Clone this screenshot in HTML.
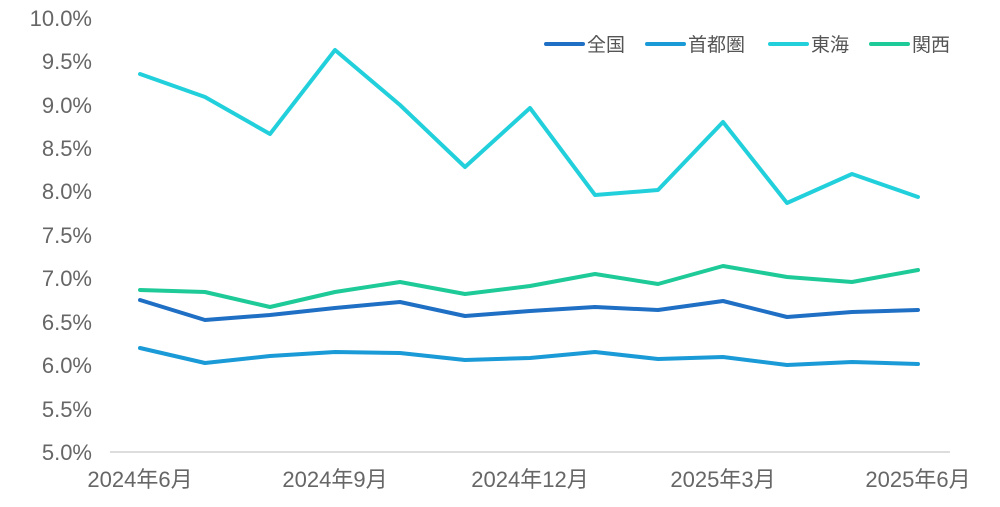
<!DOCTYPE html>
<html><head><meta charset="utf-8"><style>body{margin:0;background:#fff}svg{display:block}</style></head><body>
<svg width="1000" height="507" viewBox="0 0 1000 507" xmlns="http://www.w3.org/2000/svg" font-family="'Liberation Sans','Noto Sans CJK JP',sans-serif">
<line x1="110" y1="452" x2="950" y2="452" stroke="#ddd" stroke-width="2"/>
<g fill="#666" font-size="22" text-anchor="end">
<text x="92" y="460">5.0%</text><text x="92" y="417">5.5%</text><text x="92" y="373">6.0%</text><text x="92" y="330">6.5%</text><text x="92" y="286">7.0%</text><text x="92" y="243">7.5%</text><text x="92" y="199">8.0%</text><text x="92" y="156">8.5%</text><text x="92" y="113">9.0%</text><text x="92" y="69">9.5%</text><text x="92" y="26">10.0%</text>
</g>
<g fill="#666" font-size="22" text-anchor="middle">
<text x="140" y="487">2024年6月</text><text x="335" y="487">2024年9月</text><text x="530" y="487">2024年12月</text><text x="723" y="487">2025年3月</text><text x="918" y="487">2025年6月</text>
</g>
<g fill="none" stroke-width="4" stroke-linejoin="round" stroke-linecap="round">
<polyline stroke="#1eca98" points="140,290 205,292 270,307 335,292 400,282 465,294 530,286 595,274 658,284 723,266 787,277 852,282 918,270"/>
<polyline stroke="#1f6fc5" points="140,300 205,320 270,315 335,308 400,302 465,316 530,311 595,307 658,310 723,301 787,317 852,312 918,310"/>
<polyline stroke="#1a9ad6" points="140,348 205,363 270,356 335,352 400,353 465,360 530,358 595,352 658,359 723,357 787,365 852,362 918,364"/>
<polyline stroke="#22d0dc" points="140,74 205,97 270,134 335,50 400,105 465,167 530,108 595,195 658,190 723,122 787,203 852,174 918,197"/>
</g>
<g stroke-width="4" stroke-linecap="round">
<line x1="546" y1="44" x2="583" y2="44" stroke="#1f6fc5"/>
<line x1="647" y1="44" x2="684" y2="44" stroke="#1a9ad6"/>
<line x1="770" y1="44" x2="807" y2="44" stroke="#22d0dc"/>
<line x1="871" y1="44" x2="908" y2="44" stroke="#1eca98"/>
</g>
<g fill="#555" font-size="19">
<text x="587" y="51">全国</text><text x="688" y="51">首都圏</text><text x="811" y="51">東海</text><text x="912" y="51">関西</text>
</g>
</svg>
</body></html>
